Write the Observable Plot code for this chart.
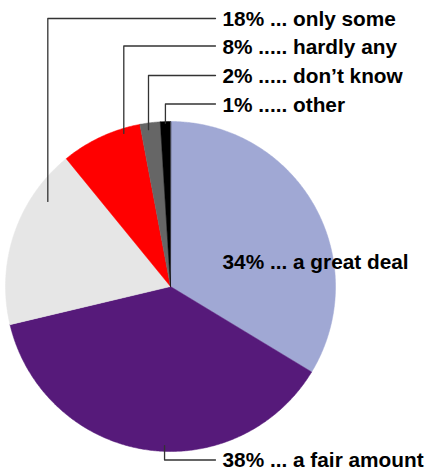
<!DOCTYPE html>
<html><head><meta charset="utf-8">
<script src="https://cdn.jsdelivr.net/npm/d3@7"></script>
<script src="https://cdn.jsdelivr.net/npm/@observablehq/plot@0.6"></script>
<style>body{margin:0;background:#fff}#chart svg{display:block}</style>
</head><body><div id="chart"></div>
<script>
// ---- data ----
const categories = ["a great deal", "a fair amount", "only some", "hardly any", "don\u2019t know", "other"];
const percents = [34, 38, 18, 8, 2, 1];
const labelTexts = ["34% ... a great deal", "38% ... a fair amount", "18% ... only some", "8% ..... hardly any", "2% ..... don\u2019t know", "1% ..... other"];
const colors = ["#a0a8d4", "#561a7a", "#e6e6e6", "#ff0000", "#666666", "#000000"];

// ---- layout (pixels) ----
const W = 428, H = 472, CX = 170, CY = 286, R = 165;
const labelX = 222, leaderEndX = 215;
const labelRowY = [260.5, 459.5, 18, 45.5, 75, 103.5];
const textShift = [1.2, 0, 1.2, 1.2, 1.2, 1.2];
const leaderT = [null, 0.45, 0.75, 0.78, 0.38, 0.5];     // position along slice
const leaderR = [null, 0.965, 0.905, 0.97, 0.96, 0.99];  // fraction of radius
const ux = px => (px - CX) / R, uy = py => (CY - py) / R;

const rows = categories.map((name, i) => ({name, pct: percents[i], label: labelTexts[i], i}));
const arcs = d3.pie().sort(null).value(d => d.pct)(rows);

// slice polygons
const slicePts = [];
for (const a of arcs) {
  const n = Math.max(2, Math.ceil((a.endAngle - a.startAngle) / (Math.PI / 360)));
  slicePts.push({name: a.data.name, x: 0, y: 0});
  for (let k = 0; k <= n; k++) {
    const t = a.startAngle + (a.endAngle - a.startAngle) * k / n;
    slicePts.push({name: a.data.name, x: Math.sin(t), y: Math.cos(t)});
  }
}

// leaders
const leaderPts = [];
for (const a of arcs) {
  const i = a.data.i;
  if (leaderT[i] == null) continue;
  const ang = a.startAngle + (a.endAngle - a.startAngle) * leaderT[i];
  const ax = leaderR[i] * Math.sin(ang), ay = leaderR[i] * Math.cos(ang);
  const ry = uy(labelRowY[i]);
  leaderPts.push({name: a.data.name, x: ax, y: ay});
  leaderPts.push({name: a.data.name, x: ax, y: ry});
  leaderPts.push({name: a.data.name, x: ux(leaderEndX), y: ry});
}

const labels = rows.map((d, i) => ({text: d.label, x: ux(labelX), y: uy(labelRowY[i] + textShift[i])}));

const chart = Plot.plot({
  width: W, height: H, margin: 0,
  x: {domain: [-1, 1], range: [CX - R, CX + R], axis: null},
  y: {domain: [-1, 1], range: [CY + R, CY - R], axis: null},
  color: {domain: categories, range: colors},
  style: {fontFamily: "'Liberation Sans', Arial, Helvetica, sans-serif", background: "#fff"},
  marks: [
    Plot.line(slicePts, {x: "x", y: "y", z: "name", fill: "name", stroke: "name", strokeWidth: 0.5, curve: "linear-closed"}),
    Plot.line(leaderPts, {x: "x", y: "y", z: "name", stroke: "#333", strokeWidth: 1.3}),
    Plot.text(labels, {x: "x", y: "y", text: "text", textAnchor: "start", fontSize: 20.8, fontWeight: "bold", fill: "#000"})
  ]
});
document.getElementById("chart").appendChild(chart);
</script>
</body></html>
